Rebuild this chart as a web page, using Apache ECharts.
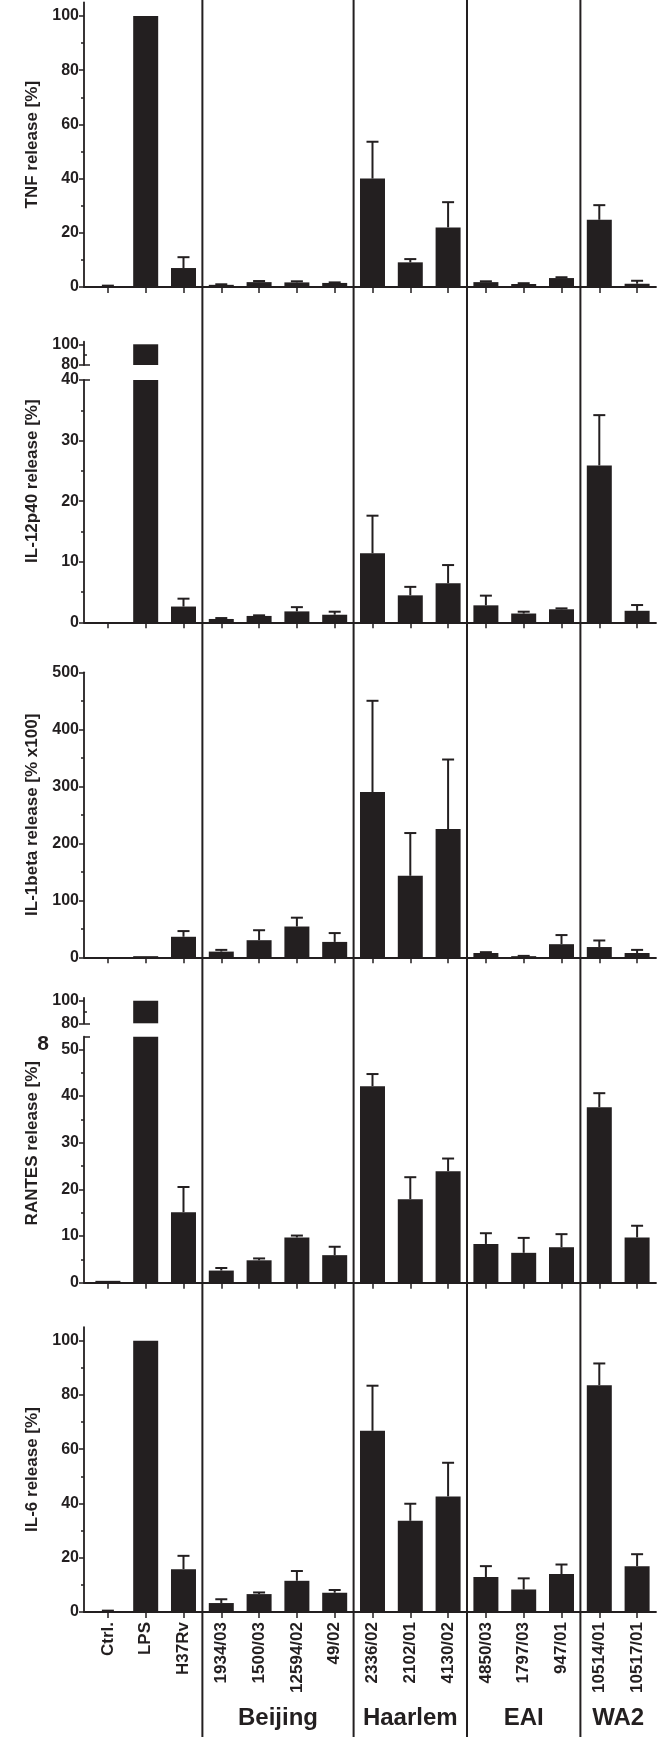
<!DOCTYPE html>
<html><head><meta charset="utf-8">
<script src="https://cdn.jsdelivr.net/npm/echarts@6/dist/echarts.min.js"></script>
<style>html,body{margin:0;padding:0;background:#fff}#c{width:670px;height:1737px}</style>
</head><body><div id="c"></div>
<script>
// ---------- data ----------
const categories = ['Ctrl.','LPS','H37Rv','1934/03','1500/03','12594/02','49/02','2336/02','2102/01','4130/02','4850/03','1797/03','947/01','10514/01','10517/01'];
const groupNames = ['Beijing','Haarlem','EAI','WA2'];
const groupFirst = [3, 7, 10, 13];
const groupLast  = [6, 9, 12, 14];

const tnfMean = [0.3,100,7.0,0.8,1.8,1.7,1.5,40.0,9.1,22.0,1.8,1.1,3.3,24.8,1.2];
const tnfErr  = [0.2,0,4.0,0.2,0.4,0.4,0.2,13.6,1.2,9.3,0.3,0.3,0.3,5.4,1.1];
const il12Mean = [0.05,100,2.6,0.55,1.05,1.8,1.25,11.4,4.45,6.45,2.8,1.45,2.15,25.9,1.9];
const il12Err  = [0,0,1.3,0.15,0.1,0.7,0.5,6.2,1.4,3.0,1.6,0.3,0.15,8.3,0.95];
const il1bMean = [0,2,36,10,30,54,27,290,143,225,7.5,2,23,18,7.5];
const il1bErr  = [0,0,10,3,17.5,15.5,15.5,160,75,122,1.5,0.5,16,11.5,5.5];
const rantesMean = [0.4,100,15.1,2.6,4.8,9.7,5.9,42.1,17.9,23.9,8.3,6.4,7.6,37.6,9.7];
const rantesErr  = [0,0,5.4,0.55,0.4,0.4,1.8,2.6,4.7,2.7,2.3,3.2,2.8,3.0,2.5];
const il6Mean = [0.3,100,15.8,3.3,6.6,11.5,7.1,66.8,33.6,42.6,12.9,8.3,14.0,83.6,16.9];
const il6Err  = [0.2,0,4.9,1.4,0.6,3.6,1.0,16.6,6.3,12.4,4.0,4.1,3.5,8.0,4.4];

const pctTicks = [0,20,40,60,80,100];
const pctMinor = [10,30,50,70,90];
const brkTicks = [80,100];
const brkMinor = [90];
const il12Ticks = [0,10,20,30,40];
const il12Minor = [5,15,25,35];
const il1bTicks = [0,100,200,300,400,500];
const il1bMinor = [50,150,250,350,450];
const rantesTicks = [0,10,20,30,40,50];
const rantesMinor = [5,15,25,35,45];

// ---------- layout ----------
const ink = '#231f20';
const font = 'Liberation Sans, Arial, Helvetica, sans-serif';
const L = 84, W = 572;
const xMin = -0.632, xMax = categories.length - 0.5;
const catIdx = categories.map((c, i) => i);

const panels = [
  {name:'TNF release [%]', mean:tnfMean, err:tnfErr, pad:0, segs:[
    {top:2.45, bottom:287, min:0, max:105, ticks:pctTicks, minor:pctMinor, xAxis:true}]},
  {name:'IL-12p40 release [%]', mean:il12Mean, err:il12Err, pad:40, segs:[
    {top:341.7, bottom:365, min:80, max:102.5, ticks:brkTicks, minor:brkMinor, minorInside:true, brk:[80], upper:true, xAxis:false},
    {top:380, bottom:622.3, min:0, max:40, ticks:il12Ticks, minor:il12Minor, brk:[40], xAxis:true}]},
  {name:'IL-1beta release [% x100]', mean:il1bMean, err:il1bErr, pad:0, segs:[
    {top:672.3, bottom:957.3, min:0, max:500, ticks:il1bTicks, minor:il1bMinor, xAxis:true}]},
  {name:'RANTES release [%]', mean:rantesMean, err:rantesErr, pad:33, segs:[
    {top:997.8, bottom:1023.3, min:80, max:102.6, ticks:brkTicks, minor:brkMinor, minorInside:true, brk:[80], upper:true, xAxis:false},
    {top:1036.7, bottom:1282.7, min:0, max:52.7, ticks:rantesTicks, minor:rantesMinor, brk:[52.7], xAxis:true}]},
  {name:'IL-6 release [%]', mean:il6Mean, err:il6Err, pad:0, segs:[
    {top:1327.1, bottom:1612, min:0, max:105, ticks:pctTicks, minor:pctMinor, xAxis:true}]}
];

function renderErr(params, api) {
  const i = api.value(0), v = api.value(1), e = api.value(2);
  if (!(e > 0)) return null;
  const p0 = api.coord([i, v]);
  const p1 = api.coord([i, v + e]);
  const st = {stroke: ink, lineWidth: 2};
  return {type:'group', children:[
    {type:'line', shape:{x1:p0[0], y1:p0[1], x2:p1[0], y2:p1[1]}, style:st},
    {type:'line', shape:{x1:p1[0]-6, y1:p1[1], x2:p1[0]+6, y2:p1[1]}, style:st}
  ]};
}

const grids = [], xAxes = [], yAxes = [], series = [];
panels.forEach((p, pi) => {
  p.segs.forEach((s, si) => {
    const g = grids.length;
    grids.push({left:L, width:W, top:s.top, height:s.bottom - s.top});
    const isLast = pi === panels.length - 1;
    xAxes.push({gridIndex:g, type:'value', min:xMin, max:xMax,
      axisLine:{show:s.xAxis, onZero:false, lineStyle:{color:ink, width:1.8}},
      axisTick:{show:s.xAxis, customValues:catIdx, length:6, lineStyle:{color:ink, width:1.5}},
      axisLabel:{show:isLast, customValues:catIdx, formatter:v => categories[Math.round(v)] || '',
        rotate:90, margin:10, color:ink, fontSize:17, fontWeight:'bold', fontFamily:font},
      splitLine:{show:false}});
    const named = p.segs.length === 1 || si === 1;
    const yMain = yAxes.length;
    yAxes.push({gridIndex:g, type:'value', position:'left', min:s.min, max:s.max,
      axisLine:{show:true, onZero:false, lineStyle:{color:ink, width:1.8}},
      axisTick:{show:true, length:5, customValues:s.ticks, lineStyle:{color:ink, width:1.5}},
      axisLabel:{customValues:s.ticks, margin:5, color:ink, fontSize:16, fontWeight:'bold', fontFamily:font},
      splitLine:{show:false},
      name: named ? p.name : '', nameLocation:'middle', nameGap:43.5,
      nameTextStyle:{fontSize:17, fontWeight:'bold', color:ink, fontFamily:font, padding:[0,0,0,p.pad]}});
    yAxes.push({gridIndex:g, type:'value', position:'left', min:s.min, max:s.max,
      axisLine:{show:false, onZero:false}, axisLabel:{show:false}, splitLine:{show:false},
      axisTick:{show:true, inside:!!s.minorInside, length:3, customValues:s.minor, lineStyle:{color:ink, width:1.5}}});
    if (s.brk) {
      yAxes.push({gridIndex:g, type:'value', position:'left', min:s.min, max:s.max,
        axisLine:{show:false, onZero:false}, axisLabel:{show:false}, splitLine:{show:false},
        axisTick:{show:true, inside:true, length:6, customValues:s.brk, lineStyle:{color:ink, width:1.5}}});
    }
    series.push({type:'bar', xAxisIndex:g, yAxisIndex:yMain,
      data: p.mean.map((v, i) => [i, (s.upper && !(v > s.min)) ? '-' : v]),
      barWidth:25, itemStyle:{color:ink}, silent:true, clip:true});
    if (!s.upper) {
      series.push({type:'custom', xAxisIndex:g, yAxisIndex:yMain, z:3, silent:true,
        data:p.mean.map((v, i) => [i, v, p.err[i]]), encode:{x:0, y:1}, renderItem:renderErr});
    }
  });
});

// helper grid spanning whole figure for group separators and group names
const hg = grids.length;
grids.push({left:L, width:W, top:0, height:1737});
xAxes.push({gridIndex:hg, type:'value', min:xMin, max:xMax, show:false});
const hy = yAxes.length;
yAxes.push({gridIndex:hg, type:'value', min:0, max:1, show:false});
const boundaries = groupFirst.map(f => [f - 0.5, 0]);
series.push({type:'custom', xAxisIndex:hg, yAxisIndex:hy, silent:true, data:boundaries, encode:{x:0, y:1},
  renderItem:(params, api) => {
    const x = api.coord([api.value(0), 0])[0];
    const cs = params.coordSys;
    return {type:'line', shape:{x1:x, y1:cs.y, x2:x, y2:cs.y + cs.height}, style:{stroke:ink, lineWidth:2}};
  }});
const centers = groupFirst.map((f, i) => [(f + groupLast[i]) / 2, 0]);
series.push({type:'custom', xAxisIndex:hg, yAxisIndex:hy, silent:true, data:centers, encode:{x:0, y:1},
  renderItem:(params, api) => {
    const x = api.coord([api.value(0), 0])[0];
    const cs = params.coordSys;
    return {type:'text', x:x, y:cs.y + cs.height - 18.5,
      style:{text:groupNames[params.dataIndex], fill:ink, fontSize:24, fontWeight:'bold', fontFamily:font, align:'center', verticalAlign:'middle'}};
  }});

const chart = echarts.init(document.getElementById('c'), null, {renderer:'canvas'});
chart.setOption({
  animation:false,
  backgroundColor:'#fff',
  grid:grids, xAxis:xAxes, yAxis:yAxes, series:series,
  graphic:[{type:'text', x:43, y:1044, style:{text:'8', fill:ink, fontSize:21, fontWeight:'bold', fontFamily:font, align:'center', verticalAlign:'middle'}}]
});
</script></body></html>
